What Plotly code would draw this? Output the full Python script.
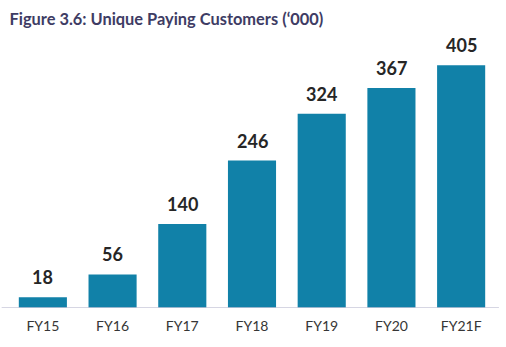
import plotly.graph_objects as go

categories = ["FY15", "FY16", "FY17", "FY18", "FY19", "FY20", "FY21F"]
customers = [18, 56, 140, 246, 324, 367, 405]

BAR_COLOR = "#1181A8"

fig = go.Figure()
fig.add_trace(go.Bar(
    x=categories,
    y=customers,
    marker=dict(color=BAR_COLOR, line=dict(width=0)),
    hoverinfo="x+y",
))

# value labels above each bar
for cat, val in zip(categories, customers):
    fig.add_annotation(
        x=cat, y=val, text=f"<b>{val}</b>", showarrow=False,
        xanchor="center", yanchor="bottom", yshift=7,
        font=dict(family="Lato", size=18, color="#262626"),
    )

# baseline rule
fig.add_shape(
    type="line", xref="paper", yref="y",
    x0=-0.013, x1=1.006, y0=0, y1=0,
    line=dict(color="#C9C8DA", width=1.5),
)

fig.update_layout(
    width=506, height=347,
    margin=dict(l=8, r=10, t=40, b=39),
    paper_bgcolor="white", plot_bgcolor="white",
    bargap=0.31,
    showlegend=False,
    title=dict(
        text="<b>Figure 3.6: Unique Paying Customers (‘000)</b>",
        x=0.003, xanchor="left", xref="paper",
        y=0.945, yanchor="middle", yref="container",
        font=dict(family="Lato", size=16.4, color="#3E3C64"),
    ),
    xaxis=dict(
        showgrid=False, showline=False, zeroline=False, ticks="",
        ticklabelstandoff=8,
        tickfont=dict(family="Lato", size=14, color="#363636"),
    ),
    yaxis=dict(
        range=[0, 447], visible=False, showgrid=False, zeroline=False,
    ),
)

fig.write_html("out.html")
